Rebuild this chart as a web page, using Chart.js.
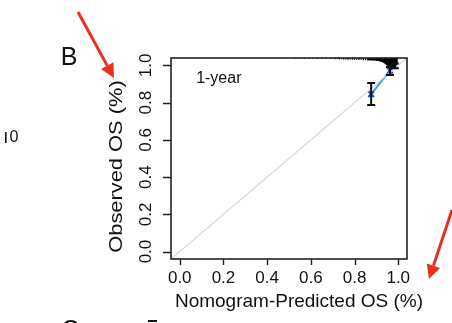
<!DOCTYPE html>
<html>
<head>
<meta charset="utf-8">
<script src="https://cdn.jsdelivr.net/npm/chart.js@4"></script>
<style>
  html, body { margin: 0; padding: 0; background: #fff; }
  canvas { display: block; }
</style>
</head>
<body>
<canvas id="calib" width="452" height="323"></canvas>
<script>
// calibration data
const predX = [0.876, 0.962, 0.984];
const obsY = [0.846, 0.972, 0.998];
const obsLo = [0.788, 0.948, 0.985];
const obsHi = [0.906, 0.992, 1.010];

// rug of predicted values hanging from the top edge (x, length in y units)
const rugX = [0.53, 0.55, 0.57, 0.59, 0.61, 0.63, 0.65, 0.67, 0.69, 0.71, 0.72, 0.73, 0.74, 0.75, 0.76, 0.77, 0.78, 0.79, 0.80, 0.81, 0.82, 0.83, 0.84, 0.85, 0.86, 0.865, 0.87, 0.875, 0.88, 0.885, 0.89, 0.895, 0.90, 0.905, 0.91, 0.915, 0.92, 0.925, 0.93, 0.935, 0.94, 0.945, 0.95, 0.955, 0.96, 0.965, 0.97, 0.975, 0.98, 0.985, 0.99, 0.995];
const rugH = [0.004, 0.004, 0.005, 0.004, 0.005, 0.006, 0.005, 0.006, 0.006, 0.007, 0.006, 0.008, 0.007, 0.008, 0.008, 0.009, 0.008, 0.010, 0.009, 0.010, 0.011, 0.010, 0.012, 0.012, 0.013, 0.012, 0.014, 0.013, 0.014, 0.013, 0.015, 0.014, 0.016, 0.015, 0.017, 0.018, 0.020, 0.022, 0.024, 0.028, 0.032, 0.038, 0.042, 0.048, 0.052, 0.056, 0.060, 0.058, 0.054, 0.048, 0.040, 0.032];

const xTicks = [0, 0.2, 0.4, 0.6, 0.8, 1.0];
const yTicks = [0, 0.2, 0.4, 0.6, 0.8, 1.0];
const axisMin = -0.04, axisMax = 1.04;

const FONT = '"Liberation Sans", Arial, Helvetica, sans-serif';

const rugData = [];
rugX.forEach(function(x, i) {
    rugData.push({x: x, y: axisMax});
    rugData.push({x: x, y: axisMax - rugH[i]});
    rugData.push({x: x, y: null});
});

const decorPlugin = {
    id: 'decor',
    afterDatasetsDraw: function(chart) {
        const ctx = chart.ctx;
        const xs = chart.scales.x, ys = chart.scales.y;

        // error bars
        ctx.save();
        ctx.strokeStyle = '#111';
        ctx.lineWidth = 2;
        predX.forEach(function(x, i) {
            const px = xs.getPixelForValue(x);
            const top = ys.getPixelForValue(obsHi[i]);
            const bot = ys.getPixelForValue(obsLo[i]);
            ctx.beginPath();
            ctx.moveTo(px, top); ctx.lineTo(px, bot);
            ctx.moveTo(px - 4, top); ctx.lineTo(px + 4, top);
            ctx.moveTo(px - 4, bot); ctx.lineTo(px + 4, bot);
            ctx.stroke();
        });
        ctx.restore();
    },
    afterDraw: function(chart) {
        const ctx = chart.ctx;
        const xs = chart.scales.x, ys = chart.scales.y;
        const a = chart.chartArea;
        ctx.save();
        // box
        ctx.strokeStyle = '#222';
        ctx.lineWidth = 1.6;
        ctx.strokeRect(a.left, a.top, a.right - a.left, a.bottom - a.top);

        // tick marks (outward, R style)
        ctx.lineWidth = 1.4;
        ctx.beginPath();
        xTicks.forEach(function(v) {
            const px = Math.round(xs.getPixelForValue(v)) + 0.5;
            ctx.moveTo(px, a.bottom); ctx.lineTo(px, a.bottom + 6);
        });
        yTicks.forEach(function(v) {
            const py = Math.round(ys.getPixelForValue(v)) + 0.5;
            ctx.moveTo(a.left, py); ctx.lineTo(a.left - 8, py);
        });
        ctx.stroke();

        ctx.fillStyle = '#111';
        // y tick labels (rotated)
        ctx.font = '17px ' + FONT;
        ctx.textAlign = 'center';
        ctx.textBaseline = 'middle';
        yTicks.forEach(function(v) {
            ctx.save();
            ctx.translate(146, ys.getPixelForValue(v));
            ctx.rotate(-Math.PI / 2);
            ctx.fillText(v.toFixed(1), 0, 0);
            ctx.restore();
        });

        // y title
        ctx.save();
        ctx.translate(117, (a.top + a.bottom) / 2 + 8);
        ctx.rotate(-Math.PI / 2);
        ctx.scale(1.15, 1);
        ctx.font = '19px ' + FONT;
        ctx.fillText('Observed OS (%)', 0, 0);
        ctx.restore();

        // x title
        ctx.font = '19px ' + FONT;
        ctx.fillText('Nomogram-Predicted OS (%)', 299, 302);

        // inner label
        ctx.font = '16px ' + FONT;
        ctx.textAlign = 'left';
        ctx.fillText('1-year', xs.getPixelForValue(0.075), ys.getPixelForValue(0.928));

        // panel letters and cut-off neighbours
        ctx.textAlign = 'center';
        ctx.font = '25px ' + FONT;
        ctx.fillText('B', 69, 58);
        ctx.fillText('C', 70, 331);
        ctx.font = '16px ' + FONT;
        ctx.fillText('0', 14, 138);
        ctx.fillRect(5, 132, 1.6, 11);
        ctx.fillRect(148, 320, 9, 2);

        // red arrows
        function arrow(x1, y1, x2, y2) {
            const ang = Math.atan2(y2 - y1, x2 - x1);
            const hl = 14, hw = 7;
            const bx = x2 - hl * Math.cos(ang), by = y2 - hl * Math.sin(ang);
            ctx.strokeStyle = '#e8321e';
            ctx.fillStyle = '#e8321e';
            ctx.lineWidth = 3;
            ctx.beginPath();
            ctx.moveTo(x1, y1); ctx.lineTo(bx, by);
            ctx.stroke();
            ctx.beginPath();
            ctx.moveTo(x2, y2);
            ctx.lineTo(bx + hw * Math.sin(ang), by - hw * Math.cos(ang));
            ctx.lineTo(bx - hw * Math.sin(ang), by + hw * Math.cos(ang));
            ctx.closePath();
            ctx.fill();
        }
        arrow(78, 12, 114, 78);
        arrow(452, 210, 429, 279);
        ctx.restore();
    }
};

new Chart(document.getElementById('calib').getContext('2d'), {
    type: 'scatter',
    data: {
        datasets: [{
            type: 'line',
            label: 'ideal',
            data: [{x: axisMin, y: axisMin}, {x: axisMax, y: axisMax}],
            borderColor: '#d6d6d6',
            borderWidth: 1.2,
            pointRadius: 0
        }, {
            type: 'line',
            label: 'rug',
            data: rugData,
            borderColor: '#000',
            borderWidth: 1.2,
            pointRadius: 0,
            spanGaps: false
        }, {
            type: 'line',
            label: 'observed',
            data: predX.map(function(x, i) { return {x: x, y: obsY[i]}; }),
            borderColor: '#3f9be6',
            borderWidth: 2,
            pointStyle: 'crossRot',
            pointRadius: 4,
            pointBorderColor: '#1d4fd0',
            pointBorderWidth: 2
        }]
    },
    options: {
        responsive: false,
        animation: false,
        events: [],
        layout: { padding: { top: 58, right: 45, left: 0, bottom: 0 } },
        plugins: {
            legend: { display: false },
            tooltip: { enabled: false }
        },
        scales: {
            x: {
                type: 'linear',
                min: axisMin,
                max: axisMax,
                afterBuildTicks: function(scale) {
                    scale.ticks = xTicks.map(function(v) { return {value: v}; });
                },
                afterFit: function(scale) { scale.height = 64; },
                grid: { display: false },
                border: { display: false },
                ticks: {
                    color: '#111',
                    padding: 1,
                    maxRotation: 0,
                    font: { family: FONT, size: 17 },
                    callback: function(v) { return Number(v).toFixed(1); }
                }
            },
            y: {
                type: 'linear',
                min: axisMin,
                max: axisMax,
                afterBuildTicks: function(scale) {
                    scale.ticks = yTicks.map(function(v) { return {value: v}; });
                },
                afterFit: function(scale) { scale.width = 171; },
                grid: { display: false },
                border: { display: false },
                ticks: { display: false }
            }
        }
    },
    plugins: [decorPlugin]
});
</script>
</body>
</html>
